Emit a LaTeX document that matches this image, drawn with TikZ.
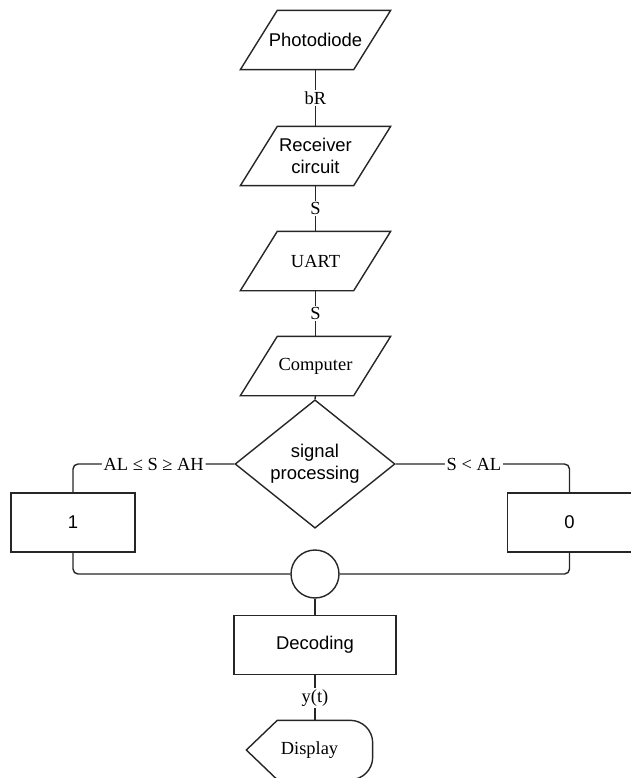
\documentclass[tikz,border=0pt]{standalone}
\usepackage{fontspec}
\setmainfont{Liberation Serif}
\setsansfont{Liberation Sans}
\usetikzlibrary{shapes.geometric}
\newcommand\fsz{\fontsize{10.5}{12.5}\selectfont}
\def\slanted(#1){\draw ([xshift=0.37cm]#1.north west) -- ([xshift=0.37cm]#1.north east) -- ([xshift=-0.37cm]#1.south east) -- ([xshift=-0.37cm]#1.south west) -- cycle;}
\tikzset{
  para/.style={rectangle, minimum width=2.24cm, minimum height=1.16cm, inner sep=1pt, align=center},
  box/.style={draw, rectangle, minimum width=2.48cm, minimum height=1.18cm},
  sans/.style={font=\sffamily\fsz},
  lab/.style={fill=white, inner sep=1pt, font=\fsz},
}

\begin{document}
\begin{tikzpicture}[x=0.02cm, y=-0.02cm, line width=0.8pt, draw=black!85, font=\fsz]
		%%%%% START %%%%%
		\useasboundingbox (0,0) rectangle (631,778);
		
		\node[para, sans] (photo) at (315.5,40) {Photodiode};
		\node[para, sans] (recv) at (315.5,156) {Receiver\\circuit};
		\node[para] (uart) at (315.5,261) {UART};
		\node[para] (comp) at (315.5,366) {Computer};
		\slanted(photo) \slanted(recv) \slanted(uart) \slanted(comp)
		
		\node[draw, diamond, minimum width=3.2cm, minimum height=2.34cm, inner sep=0pt, align=center, sans] (sig) at (315,464) {signal\\processing};
		
		\node[box, sans] (one) at (73,522.5) {1};
		\node[box, sans] (zero) at (569.5,522.5) {0};
		\node[draw, circle, minimum size=0.96cm, inner sep=0pt] (join) at (315,574) {};
		\node[box, sans, minimum width=3.24cm] (dec) at (315,645) {Decoding};
		
		\node[minimum width=2.5cm, minimum height=1.16cm, inner sep=0pt] (disp) at (309.5,750) {Display};
		\draw (disp.west) -- ([xshift=0.62cm]disp.north west) -- ([xshift=-0.45cm]disp.north east)
			arc[start angle=90, end angle=0, radius=0.45cm] -- ([yshift=0.45cm]disp.south east)
			arc[start angle=0, end angle=-90, radius=0.45cm] -- ([xshift=0.62cm]disp.south west) -- cycle;
		
		\draw (photo.south) -- node[lab]{bR} (recv.north);
		\draw (recv.south) -- node[lab]{S} (uart.north);
		\draw (uart.south) -- node[lab]{S} (comp.north);
		\draw (comp.south) -- (sig.north);
		
		\draw[rounded corners=0.1cm] (sig.west) -- node[lab]{AL ≤ S ≥ AH} (sig.west -| one.north) -- (one.north);
		\draw[rounded corners=0.1cm] (sig.east) -- node[lab, pos=0.45]{S < AL} (sig.east -| zero.north) -- (zero.north);
		\draw[rounded corners=0.1cm] (one.south) -- (one.south |- join.west) -- (join.west);
		\draw[rounded corners=0.1cm] (zero.south) -- (zero.south |- join.east) -- (join.east);
		
		\draw (join.south) -- (dec.north);
		\draw (dec.south) -- node[lab]{y(t)} (dec.south |- disp.north);
		
		%%%%% END %%%%%
	\end{tikzpicture}
\end{document}
